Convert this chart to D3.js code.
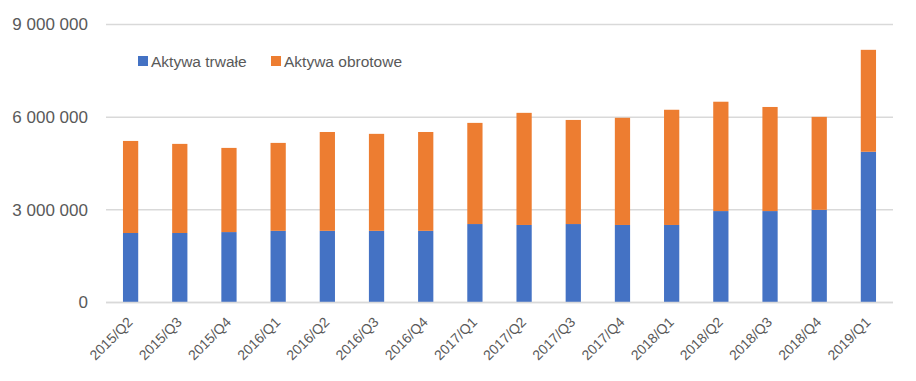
<!DOCTYPE html>
<html>
<head>
<meta charset="utf-8">
<script src="https://cdn.jsdelivr.net/npm/d3@7"></script>
<style>
  body { margin: 0; background: #fff; }
  svg { display: block; font-family: "Liberation Sans", Arial, sans-serif; }
  .grid line { stroke: #d9d9d9; stroke-width: 1.5; }
  .ylab { fill: #595959; font-size: 17px; }
  .xlab { fill: #595959; font-size: 14px; }
  .legend text { fill: #595959; font-size: 15.5px; }
</style>
</head>
<body>
<svg id="chart" width="916" height="381"></svg>
<script>
// quarters on the x axis
var quarters = ["2015/Q2","2015/Q3","2015/Q4","2016/Q1","2016/Q2","2016/Q3","2016/Q4",
                "2017/Q1","2017/Q2","2017/Q3","2017/Q4","2018/Q1","2018/Q2","2018/Q3",
                "2018/Q4","2019/Q1"];
// fixed assets (blue)
var aktywaTrwale = [2250000,2250000,2280000,2320000,2320000,2320000,2320000,
                    2540000,2510000,2540000,2510000,2510000,2960000,2960000,
                    3000000,4880000];
// current assets (orange)
var aktywaObrotowe = [2980000,2885000,2725000,2847000,3200000,3140000,3200000,
                      3275000,3630000,3370000,3470000,3730000,3540000,3370000,
                      3010000,3300000];
var yTicks = [0,3000000,6000000,9000000];
var seriesNames = ["Aktywa trwałe","Aktywa obrotowe"];
var colors = ["#4472c4","#ed7d31"];

var svg = d3.select("#chart");
var plotLeft = 106, plotRight = 893, plotTop = 24.5, plotBottom = 302.5;

var x = d3.scaleBand().domain(quarters).range([plotLeft, plotRight]).paddingInner(0.69).paddingOuter(0.345);
var y = d3.scaleLinear().domain([0, 9000000]).range([plotBottom, plotTop]);

var fmt = function(v){ return d3.format(",")(v).replace(/,/g, " "); };

// gridlines
svg.append("g").attr("class", "grid")
   .selectAll("line").data(yTicks).enter().append("line")
   .attr("x1", plotLeft).attr("x2", plotRight)
   .attr("y1", function(d){ return y(d); })
   .attr("y2", function(d){ return y(d); });

// y labels
svg.selectAll("text.ylab").data(yTicks).enter().append("text")
   .attr("class", "ylab")
   .attr("text-anchor", "end")
   .attr("x", 88)
   .attr("y", function(d){ return y(d); })
   .attr("dy", "0.35em")
   .text(fmt);

// stacked bars
var rows = quarters.map(function(q, i){
   return {q: q, trwale: aktywaTrwale[i], obrotowe: aktywaObrotowe[i]};
});
var stack = d3.stack().keys(["trwale","obrotowe"])(rows);

svg.selectAll("g.layer").data(stack).enter().append("g")
   .attr("class", "layer")
   .attr("fill", function(d, i){ return colors[i]; })
   .selectAll("rect").data(function(d){ return d; }).enter().append("rect")
   .attr("x", function(d){ return x(d.data.q); })
   .attr("width", x.bandwidth())
   .attr("y", function(d){ return y(d[1]); })
   .attr("height", function(d){ return y(d[0]) - y(d[1]); });

// redraw baseline over bars
svg.append("line")
   .attr("x1", plotLeft).attr("x2", plotRight)
   .attr("y1", y(0)).attr("y2", y(0))
   .attr("stroke", "#d9d9d9").attr("stroke-width", 1.5);

// x labels, rotated
svg.selectAll("text.xlab").data(quarters).enter().append("text")
   .attr("class", "xlab")
   .attr("text-anchor", "end")
   .attr("transform", function(d){
      var cx = x(d) + x.bandwidth() / 2 + 3;
      return "translate(" + cx + ",323) rotate(-45)";
   })
   .text(function(d){ return d; });

// legend
var legendX = [138, 271];
var legend = svg.append("g").attr("class", "legend");
seriesNames.forEach(function(name, i){
   legend.append("rect")
      .attr("x", legendX[i]).attr("y", 56)
      .attr("width", 10).attr("height", 10)
      .attr("fill", colors[i]);
   legend.append("text")
      .attr("x", legendX[i] + 13).attr("y", 66.5)
      .text(name);
});
</script>
</body>
</html>
